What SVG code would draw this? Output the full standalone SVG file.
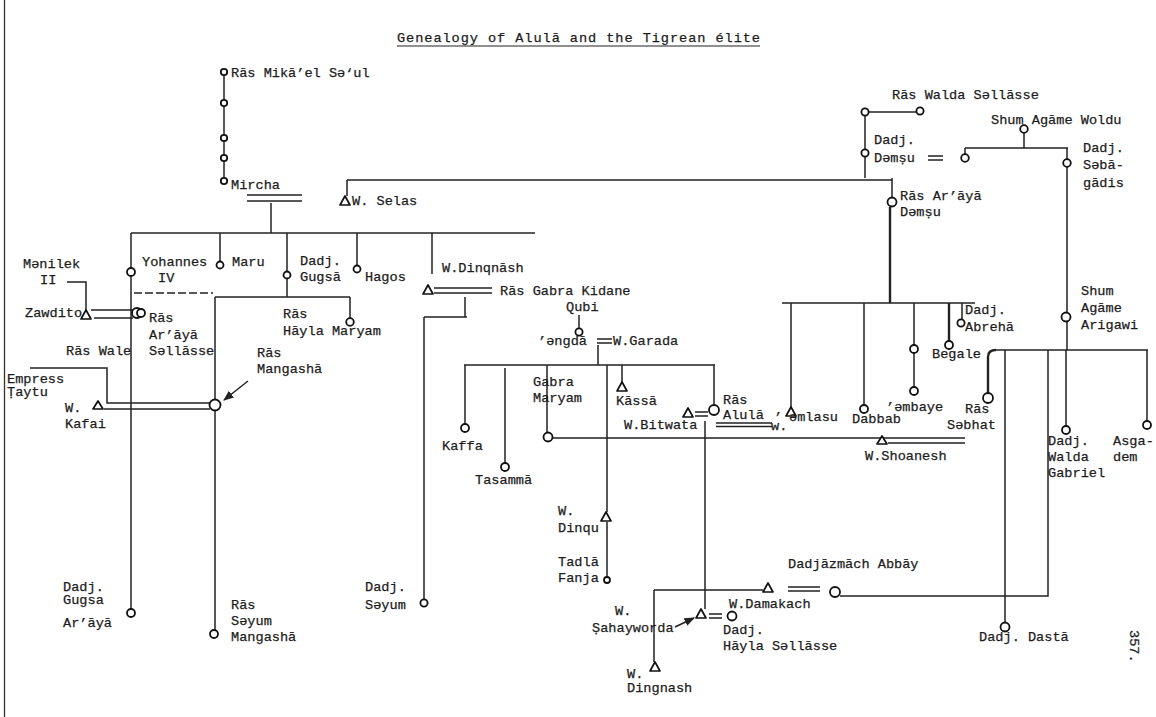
<svg xmlns="http://www.w3.org/2000/svg" width="1156" height="717" viewBox="0 0 1156 717">
<style>
.t{font-family:"Liberation Mono","DejaVu Sans Mono",monospace;font-size:13.6px;fill:#1c1c1c;stroke:#1c1c1c;stroke-width:0.25}
.ln{stroke:#222;stroke-width:1.5;fill:none}
.thk{stroke-width:2.4}
.dash{stroke-dasharray:8 3}
.c{fill:#fff;stroke:#111;stroke-width:1.8}
.tr{fill:#fff;stroke:#111;stroke-width:1.7;stroke-linejoin:round}
</style>
<defs>
<marker id="ah" viewBox="0 0 10 10" refX="9" refY="5" markerWidth="7" markerHeight="7" orient="auto"><path d="M0 1 L10 5 L0 9 z" fill="#222"/></marker>
</defs>
<rect width="1156" height="717" fill="#fff"/>
<line x1="4.5" y1="0" x2="4.5" y2="717" stroke="#333" stroke-width="1.3"/>
<g id="title">
<text class="t" x="397" y="42" font-size="14.5" textLength="363">Genealogy of Alulā and the Tigrean élite</text>
<line x1="397" y1="46" x2="760" y2="46" stroke="#222" stroke-width="1.2"/>
</g>
<g id="connectors">
<path class="ln" d="M224 72 V181"/>
<path class="ln" d="M247 195 H302 M247 201 H302"/>
<path class="ln" d="M271 203 V233"/>
<path class="ln" d="M131 233 H535"/>
<path class="ln" d="M131 233 V609"/>
<path class="ln" d="M220 233 V261 M287 233 V297 M357 233 V265 M432 233 V274"/>
<path class="ln" d="M215 297 H350 M350 297 V318 M215 297 V630"/>
<path class="ln dash" d="M134 293 H213"/>
<path class="ln" d="M91 310 H133 M94 318 H133"/>
<path class="ln" d="M67 282 H86 V310"/>
<path class="ln" d="M30 368 H107 V403 H210 M104 409 H210"/>
<path class="ln" d="M248 381 L224 400" marker-end="url(#ah)"/>
<path class="ln" d="M434 288 H492 M434 293 H492"/>
<path class="ln" d="M465 297 V317 M424 317 H467 M424 317 V599"/>
<path class="ln" d="M347 180 H892 M347 180 V196"/>
<path class="ln" d="M869 112 H916 M865 116 V149 M865 157 V178"/>
<path class="ln" d="M928 156 H943 M928 160 H943"/>
<path class="ln" d="M892 178 V197"/>
<path class="ln thk" d="M890 207 V303"/>
<path class="ln" d="M1024 133 V148 M965 148 H1068 M965 148 V154 M1067 148 V159 M1067 167 V313 M1067 321 V350"/>
<path class="ln" d="M782 303 H975 M791 303 V407 M864 303 V405 M914 303 V345 M914 353 V387 M962 303 V319"/>
<path class="ln thk" d="M949 303 V341"/>
<path class="ln" d="M994 350 H1148"/>
<path class="ln thk" d="M996 350 Q988 350 988 357 V393"/>
<path class="ln" d="M1005 350 V622 M1048 350 V596 H840 M1066 350 V426 M1147 350 V421"/>
<path class="ln" d="M579 315 V328"/>
<path class="ln" d="M597 339 H612 M597 343 H612 M598 345 V365"/>
<path class="ln" d="M464 365 H715 M465 365 V424 M505 368 V463 M547 365 V433 M607 365 V512 M607 522 V577 M622 365 V383 M714 365 V405"/>
<path class="ln" d="M695 412 H708 M695 416 H708"/>
<path class="ln" d="M705 421 V609"/>
<path class="ln" d="M716 423 H772 M716 426.5 H772"/>
<path class="ln" d="M552 438 H965 M888 443 H965"/>
<path class="ln" d="M654 590 H763 M654 590 V662"/>
<path class="ln" d="M788 587 H820 M788 591 H820"/>
<path class="ln" d="M709 614 H722 M709 618 H722"/>
<path class="ln" d="M675 627 L694 618" marker-end="url(#ah)"/>
</g>
<g id="n-mikael"><circle class="c" cx="224" cy="72" r="3.2"/><text class="t" x="231" y="77">Rās Mikā’el Sə‘ul</text></g>
<g id="n-gen2"><circle class="c" cx="224" cy="103" r="3.2"/></g>
<g id="n-gen3"><circle class="c" cx="224" cy="138" r="3.2"/></g>
<g id="n-gen4"><circle class="c" cx="224" cy="158" r="3.2"/></g>
<g id="n-mircha"><circle class="c" cx="224" cy="181" r="3.2"/><text class="t" x="231" y="189">Mircha</text></g>
<g id="n-selas"><polygon class="tr" points="345,196 350,205 340,205"/><text class="t" x="352" y="205">W. Selas</text></g>
<g id="n-waldasellasse"><circle class="c" cx="865" cy="112" r="3.6"/><circle class="c" cx="920" cy="111" r="3.6"/><text class="t" x="892" y="99">Rās Walda Səllāsse</text></g>
<g id="n-demsu"><circle class="c" cx="865" cy="153" r="3.6"/><text class="t" x="874" y="144">Dadj.</text><text class="t" x="874" y="162">Dəmṣu</text></g>
<g id="n-woldu"><circle class="c" cx="1024" cy="129" r="3.8"/><text class="t" x="991" y="124">Shum Agāme Woldu</text></g>
<g id="n-woldu-d"><circle class="c" cx="965" cy="158" r="3.8"/></g>
<g id="n-sebagadis"><circle class="c" cx="1067" cy="163" r="3.8"/><text class="t" x="1083" y="152">Dadj.</text><text class="t" x="1083" y="169">Səbā-</text><text class="t" x="1083" y="187">gādis</text></g>
<g id="n-arayademsu"><circle class="c" cx="892" cy="202" r="4.5"/><text class="t" x="900" y="200">Rās Ar’āyā</text><text class="t" x="900" y="216">Dəmṣu</text></g>
<g id="n-menilek"><text class="t" x="23" y="268">Mənilek</text><text class="t" x="40" y="284">II</text></g>
<g id="n-yohannes"><circle class="c" cx="131" cy="272" r="4"/><text class="t" x="142" y="266">Yohannes</text><text class="t" x="158" y="282">IV</text></g>
<g id="n-maru"><circle class="c" cx="220" cy="265" r="3.5"/><text class="t" x="232" y="266">Maru</text></g>
<g id="n-gugsa"><circle class="c" cx="287" cy="275" r="3.5"/><text class="t" x="300" y="265">Dadj.</text><text class="t" x="300" y="281">Gugsā</text></g>
<g id="n-hagos"><circle class="c" cx="357" cy="269" r="3.5"/><text class="t" x="365" y="281">Hagos</text></g>
<g id="n-dinqnash"><polygon class="tr" points="428,285 433,294 423,294"/><text class="t" x="442" y="272">W.Dinqnāsh</text></g>
<g id="n-gabrakidane"><text class="t" x="500" y="295">Rās Gabra Kidane</text></g>
<g id="n-zawdito"><polygon class="tr" points="86,310 91,319 81,319"/><text class="t" x="25" y="317">Zawdito</text></g>
<g id="n-arayasellasse"><circle class="c" cx="137" cy="313" r="5"/><circle class="c" cx="141" cy="313" r="4" fill="none"/><text class="t" x="149" y="322">Rās</text><text class="t" x="149" y="339">Ar’āyā</text><text class="t" x="149" y="355">Səllāsse</text></g>
<g id="n-haylamaryam"><circle class="c" cx="350" cy="322" r="3.8"/><text class="t" x="283" y="318">Rās</text><text class="t" x="283" y="335">Hāyla Maryam</text></g>
<g id="n-wale"><text class="t" x="66" y="355">Rās Wale</text></g>
<g id="n-mangasha"><circle class="c" cx="215" cy="405" r="5.5"/><text class="t" x="257" y="357">Rās</text><text class="t" x="257" y="373">Mangashā</text></g>
<g id="n-taytu"><text class="t" x="7" y="383">Empress</text><text class="t" x="7" y="396">Ṭaytu</text></g>
<g id="n-kafai"><polygon class="tr" points="98,401 103,409 93,409"/><text class="t" x="65" y="412">W.</text><text class="t" x="65" y="428">Kafai</text></g>
<g id="n-gugsaaraya"><circle class="c" cx="131" cy="613" r="4"/><text class="t" x="63" y="591">Dadj.</text><text class="t" x="63" y="604">Gugsa</text><text class="t" x="63" y="627">Ar’āyā</text></g>
<g id="n-seyummangasha"><circle class="c" cx="214" cy="634" r="4"/><text class="t" x="231" y="609">Rās</text><text class="t" x="231" y="625">Səyum</text><text class="t" x="231" y="641">Mangashā</text></g>
<g id="n-seyum"><circle class="c" cx="424" cy="603" r="3.6"/><text class="t" x="365" y="591">Dadj.</text><text class="t" x="365" y="609">Səyum</text></g>
<g id="n-qubi"><text class="t" x="566" y="311">Qubi</text></g>
<g id="n-engda"><circle class="c" cx="579" cy="332" r="3.6"/><text class="t" x="538" y="345">’əngdā</text></g>
<g id="n-garada"><text class="t" x="613" y="345">W.Garada</text></g>
<g id="n-kaffa"><circle class="c" cx="465" cy="428" r="4"/><text class="t" x="442" y="450">Kaffa</text></g>
<g id="n-tasamma"><circle class="c" cx="505" cy="467" r="4"/><text class="t" x="475" y="484">Tasammā</text></g>
<g id="n-gabramaryam"><circle class="c" cx="548" cy="437" r="4.5"/><text class="t" x="533" y="386">Gabra</text><text class="t" x="533" y="402">Maryam</text></g>
<g id="n-kassa"><polygon class="tr" points="622,382 627,391 617,391"/><text class="t" x="616" y="405">Kāssā</text></g>
<g id="n-bitwata"><polygon class="tr" points="688,408 693,417 683,417"/><text class="t" x="624" y="429">W.Bitwata</text></g>
<g id="n-alula"><circle class="c" cx="714" cy="410" r="5"/><text class="t" x="723" y="404">Rās</text><text class="t" x="723" y="419">Alulā</text></g>
<g id="n-emlasu"><polygon class="tr" points="791,407 796,416 786,416"/><text class="t" x="775" y="414">,</text><text class="t" x="771" y="430" font-size="8">w.</text><text class="t" x="789" y="421">əmlasu</text></g>
<g id="n-dabbab"><circle class="c" cx="864" cy="409" r="4"/><text class="t" x="852" y="423">Dabbab</text></g>
<g id="n-embaye"><circle class="c" cx="914" cy="349" r="4"/><circle class="c" cx="914" cy="391" r="4"/><text class="t" x="886" y="411">’əmbaye</text></g>
<g id="n-begale"><circle class="c" cx="949" cy="345" r="4"/><text class="t" x="932" y="358">Begale</text></g>
<g id="n-abreha"><circle class="c" cx="961" cy="323" r="3.6"/><text class="t" x="965" y="314">Dadj.</text><text class="t" x="965" y="331">Abrehā</text></g>
<g id="n-shoanesh"><polygon class="tr" points="882,436 887,444 877,444"/><text class="t" x="865" y="460">W.Shoanesh</text></g>
<g id="n-arigawi"><circle class="c" cx="1066" cy="317" r="4.5"/><text class="t" x="1081" y="295">Shum</text><text class="t" x="1081" y="312">Agāme</text><text class="t" x="1081" y="329">Arigawi</text></g>
<g id="n-sebhat"><circle class="c" cx="988" cy="398" r="5"/><text class="t" x="965" y="413">Rās</text><text class="t" x="947" y="429">Səbhat</text></g>
<g id="n-waldagabriel"><circle class="c" cx="1066" cy="430" r="4"/><text class="t" x="1048" y="445">Dadj.</text><text class="t" x="1048" y="461">Walda</text><text class="t" x="1048" y="477">Gabriel</text></g>
<g id="n-asgadem"><circle class="c" cx="1147" cy="425" r="4"/><text class="t" x="1113" y="445">Asga-</text><text class="t" x="1113" y="461">dem</text></g>
<g id="n-dinqu"><polygon class="tr" points="606,512 611,521 601,521"/><text class="t" x="558" y="515">W.</text><text class="t" x="558" y="532">Dinqu</text></g>
<g id="n-tadla"><circle class="c" cx="607" cy="580" r="3"/><text class="t" x="558" y="566">Tadlā</text><text class="t" x="558" y="582">Fanja</text></g>
<g id="n-abbay"><circle class="c" cx="835" cy="592" r="5"/><text class="t" x="788" y="568">Dadjāzmāch Abbāy</text></g>
<g id="n-damakach"><polygon class="tr" points="768,583 773,592 763,592"/><text class="t" x="729" y="608">W.Damakach</text></g>
<g id="n-sahayworda"><polygon class="tr" points="701,609 706,618 696,618"/><text class="t" x="615" y="615">W.</text><text class="t" x="592" y="632">Ṣahayworda</text></g>
<g id="n-haylasellasse"><circle class="c" cx="732" cy="616" r="4.5"/><text class="t" x="723" y="634">Dadj.</text><text class="t" x="723" y="650">Hāyla Səllāsse</text></g>
<g id="n-dingnash"><polygon class="tr" points="655,662 660,671 650,671"/><text class="t" x="627" y="678">W.</text><text class="t" x="627" y="692">Dingnash</text></g>
<g id="n-dasta"><circle class="c" cx="1005" cy="627" r="4.5"/><text class="t" x="979" y="641">Dadj. Dastā</text></g>
<g id="pagenum"><text class="t" x="1130" y="630" transform="rotate(90 1130 630)">357.</text></g>
</svg>
